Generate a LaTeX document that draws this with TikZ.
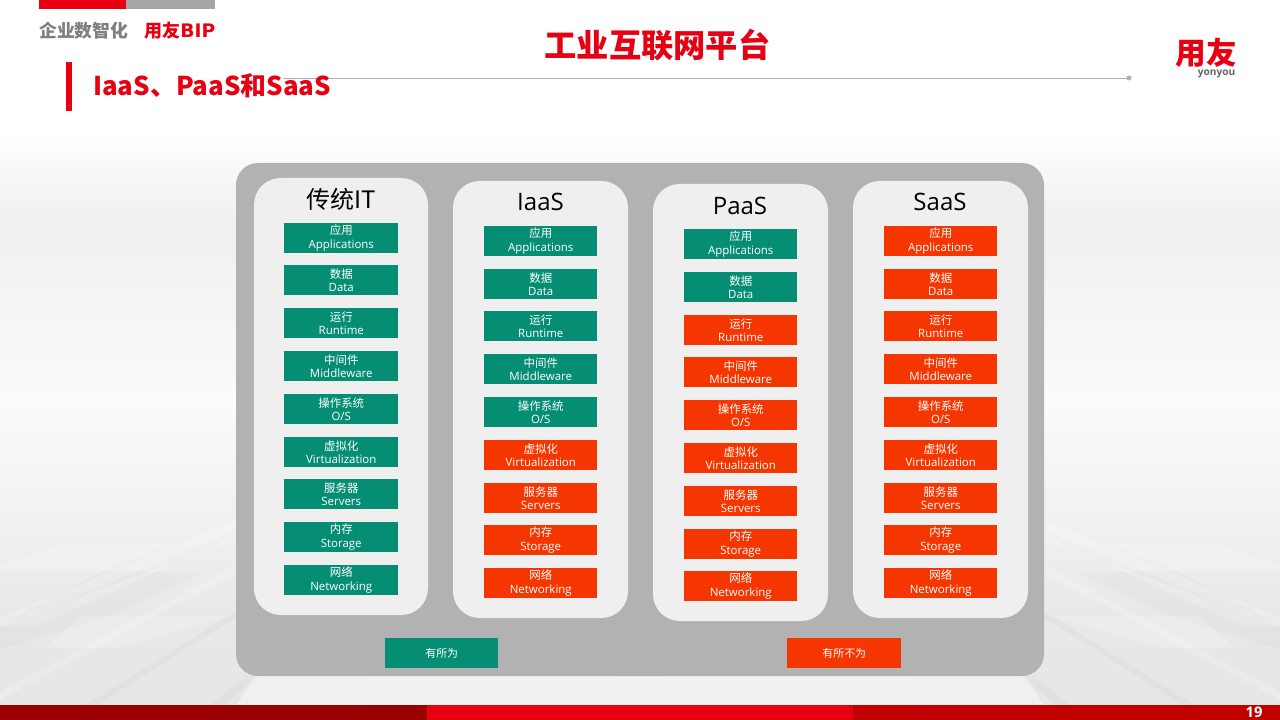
\documentclass[tikz,border=0pt]{standalone}
\usepackage{fontspec}
\setmainfont{Open Sans}
\newfontfamily\cjk{Noto Sans CJK SC}
\newcommand{\cjkb}{\cjk\bfseries}
\newfontfamily\lat{Open Sans}
\newcommand{\latb}{\lat\bfseries}
\newfontfamily\wide{DejaVu Sans}
\definecolor{tgreen}{HTML}{068E74}
\definecolor{torange}{HTML}{F63600}
\definecolor{ured}{HTML}{E60012}
\definecolor{outerg}{HTML}{B2B2B2}
\definecolor{panelg}{HTML}{EFEFEF}
\definecolor{dred}{HTML}{9A0000}
\definecolor{mred}{HTML}{C00000}
\definecolor{topg}{HTML}{A6A6A6}
\definecolor{brandg}{HTML}{7F7F7F}
\definecolor{logog}{HTML}{666666}
\definecolor{bga}{HTML}{F1F1F1}
\definecolor{bgb}{HTML}{FBFBFB}
\definecolor{bgc}{HTML}{E8E8E8}
\definecolor{bgd}{HTML}{E6E6E6}
\tikzset{
 x=0.75pt,y=-0.75pt,
 outerbox/.style={fill=outerg,draw=none,rounded corners=16.5pt},
 panel/.style={fill=panelg,draw=none,rounded corners=20pt},
 cell/.style={minimum width=84.75pt,minimum height=22.2pt,inner sep=0pt,text=white,align=center,font=\fontsize{8.6}{9.9}\selectfont,anchor=north west},
 coltitle/.style={font=\fontsize{18}{22}\selectfont,text=black,inner sep=0pt},
 streak/.style={fill=white,opacity=.2,draw=none},
 faintstreak/.style={fill=white,opacity=.08,draw=none},
 dstreak/.style={fill=black,opacity=.02,draw=none},
}
\newcommand{\cellt}[2]{{\cjk #1}\\{\lat #2}}
\newcommand{\bgstreaks}{%
  \fill[dstreak] (100,572) -- (205,572) -- (112,615) -- (0,650) -- (0,625) -- cycle;
  \fill[streak] (0,565) -- (60,544) -- (175,544) -- (100,572) -- (0,572) -- cycle;
  \fill[streak] (0,618) -- (236,520) -- (236,530) -- (0,628) -- cycle;
  \fill[streak] (0,625) -- (40,625) -- (236,535) -- (236,540) -- cycle;
  \fill[streak] (80,616) -- (228,616) -- (122,648) -- (45,648) -- cycle;
  \fill[streak] (0,692) -- (236,565) -- (236,573) -- (0,700) -- cycle;
  \fill[dstreak] (85,705) -- (228,616) -- (236,612) -- (236,618) -- (97,705) -- cycle;
  \fill[dstreak] (210,705) -- (245,676) -- (256,676) -- (226,705) -- cycle;
  \fill[faintstreak] (0,178) -- (120,150) -- (236,200) -- (236,210) -- (120,165) -- (0,195) -- cycle;
}
\begin{document}
\begin{tikzpicture}
\useasboundingbox (0,0) rectangle (1280,720);
% background
\fill[white] (0,0) rectangle (1280,720);
\shade[top color=white,bottom color=bga] (0,130) rectangle (1280,216);
\fill[bga] (0,215) rectangle (1280,244);
\shade[top color=bga,bottom color=bgb] (0,243) rectangle (1280,401);
\shade[top color=bgb,bottom color=bgc] (0,400) rectangle (1280,621);
\shade[top color=bgc,bottom color=bgd] (0,620) rectangle (1280,706);
\shade[left color=bgd!40!white,right color=bgd!40!white,middle color=bga!60!white,opacity=.7] (256,676) -- (1024,676) -- (1044,705) -- (236,705) -- cycle;
\bgstreaks
\begin{scope}[x=-0.75pt,xshift=960pt]
\bgstreaks
\end{scope}
% header
\fill[ured] (39,0) rectangle (126,9);
\fill[topg] (126,0) rectangle (215,9);
\node[inner sep=0pt,text=brandg,font=\cjkb\fontsize{13.35}{14}\selectfont,anchor=west] (brand) at (39,31) {企业数智化};
\node[inner sep=0pt,text=ured,font=\cjkb\fontsize{13.5}{14}\selectfont,anchor=east] (bip) at (215.5,31) {用友{\wide\bfseries\fontsize{14}{14}\selectfont BIP}};
\fill[ured] (66,62) rectangle (72,111);
\coordinate (rulestart) at (283,78);
\coordinate (ruleend) at (1129,78);
\draw[outerg,line width=0.6pt] (rulestart) -- (ruleend);
\fill[outerg] (ruleend) circle (2.5);
\node[inner sep=0pt,text=ured,font=\cjkb\fontsize{19.4}{24}\selectfont,anchor=west] (sub) at (93,86) {IaaS、PaaS和SaaS};
\node[inner sep=0pt,text=ured,font=\cjkb\fontsize{24.2}{28}\selectfont] (title) at (657.5,45) {工业互联网平台};
\node[inner sep=0pt,text=ured,font=\cjkb\fontsize{23}{26}\selectfont] (logo) at (1206,52.5) {用友};
\node[inner sep=0pt,text=logog,font=\latb\fontsize{7.6}{8}\selectfont] (logosub) at (1216.5,73.5) {yonyou};
% main
\draw[outerbox] (236,163) rectangle (1044,676);
\draw[panel] (254,178) rectangle (428,615);
\draw[panel] (453,181) rectangle (628,618);
\draw[panel] (653,184) rectangle (828,621);
\draw[panel] (853,181) rectangle (1028,618);
\node[coltitle,font=\cjk\fontsize{18}{22}\selectfont] (t1) at (341,199) {传统IT};
\node[coltitle] (t2) at (540.5,201.7) {IaaS};
\node[coltitle] (t3) at (740,205.7) {PaaS};
\node[coltitle] (t4) at (940,201.7) {SaaS};
% cells
\foreach \c/\x/\w/\n/\tops in {1/284/85.5pt/10/{223,265,308,351,394,437,479,522,565},
  2/484/84.75pt/6/{226,269,311,354,397,440,483,525,568},
  3/684/84.75pt/3/{229,272,315,357,400,443,486,529,571},
  4/884/84.75pt/1/{226,269,311,354,397,440,483,525,568}}{
  \foreach \y [count=\r] in \tops {
    \ifnum\r<\n \def\fc{tgreen}\else\def\fc{torange}\fi
    \ifcase\r\or\def\txt{\cellt{应用}{Applications}}%
      \or\def\txt{\cellt{数据}{Data}}%
      \or\def\txt{\cellt{运行}{Runtime}}%
      \or\def\txt{\cellt{中间件}{Middleware}}%
      \or\def\txt{\cellt{操作系统}{O/S}}%
      \or\def\txt{\cellt{虚拟化}{Virtualization}}%
      \or\def\txt{\cellt{服务器}{Servers}}%
      \or\def\txt{\cellt{内存}{Storage}}%
      \or\def\txt{\cellt{网络}{Networking}}\fi
    \node[cell,fill=\fc,minimum width=\w] (c\c r\r) at (\x,\y) {\txt};
  }
}
\node[cell,fill=tgreen,font=\cjk\fontsize{8.2}{10}\selectfont] (legA) at (385,638) {有所为};
\node[cell,fill=torange,minimum width=85.5pt,font=\cjk\fontsize{8.2}{10}\selectfont] (legB) at (787,638) {有所不为};
% footer
\fill[dred] (0,705) rectangle (427,720);
\fill[ured] (427,705) rectangle (853,720);
\fill[mred] (853,705) rectangle (1280,720);
\node[inner sep=0pt,text=white,font=\latb\fontsize{11}{12}\selectfont] (pg) at (1254,712.5) {19};
\end{tikzpicture}
\end{document}
